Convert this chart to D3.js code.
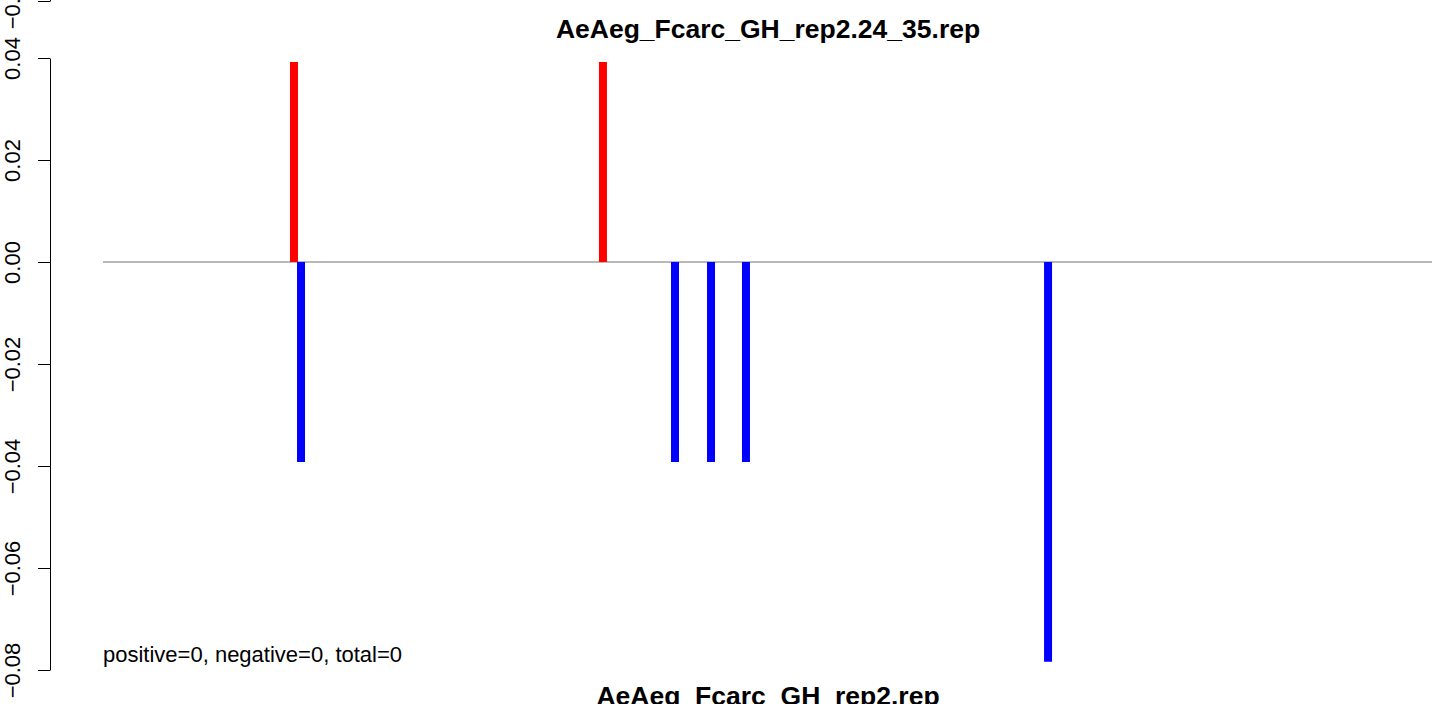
<!DOCTYPE html>
<html>
<head>
<meta charset="utf-8">
<script src="https://cdn.jsdelivr.net/npm/d3@7"></script>
<style>
  html, body { margin: 0; padding: 0; background: #fff; }
  svg { display: block; }
  text { font-family: "Liberation Sans", Arial, Helvetica, sans-serif; }
</style>
</head>
<body>
<div id="chart"></div>
<script>
// ---- data ----
const titleText = "AeAeg_Fcarc_GH_rep2.24_35.rep";
const nextTitleText = "AeAeg_Fcarc_GH_rep2.rep";
const summaryText = "positive=0, negative=0, total=0";
const positivePositions = [14.37, 37.62];
const positiveValues = [0.0392, 0.0392];
const negativePositions = [14.90, 43.04, 45.75, 48.38, 71.11];
const negativeValues = [-0.0392, -0.0392, -0.0392, -0.0392, -0.0784];
const yTicks = [0.04, 0.02, 0.00, -0.02, -0.04, -0.06, -0.08];
const xDomain = [0, 100];
const yDomain = [-0.08, 0.04];
const prevPanelTicks = [-0.08];

// ---- layout ----
const W = 1439, H = 704;
const svg = d3.select("#chart").append("svg").attr("width", W).attr("height", H);

const x = d3.scaleLinear().domain(xDomain).range([103, 1432]);
const y = d3.scaleLinear().domain(yDomain).range([670, 58]);
const axisX = 50;
const fmt = d3.format(".2f");

// baseline
svg.append("line")
  .attr("x1", x(xDomain[0])).attr("x2", x(xDomain[1]))
  .attr("y1", y(0)).attr("y2", y(0))
  .attr("stroke", "#a0a0a0").attr("stroke-width", 1.5);

// bars
svg.append("g").selectAll("line")
  .data(positivePositions.map((p, i) => ({p, v: positiveValues[i]})))
  .join("line")
  .attr("x1", d => x(d.p)).attr("x2", d => x(d.p))
  .attr("y1", y(0)).attr("y2", d => y(d.v))
  .attr("stroke", "#ff0000").attr("stroke-width", 8);

svg.append("g").selectAll("line")
  .data(negativePositions.map((p, i) => ({p, v: negativeValues[i]})))
  .join("line")
  .attr("x1", d => x(d.p)).attr("x2", d => x(d.p))
  .attr("y1", y(0)).attr("y2", d => y(d.v))
  .attr("stroke", "#0000ff").attr("stroke-width", 8);

// y axis
function styleAxis(g) {
  g.select(".domain").attr("stroke", "#000").attr("stroke-width", 1);
  g.selectAll(".tick line").attr("stroke", "#000").attr("stroke-width", 1);
  g.selectAll(".tick text")
    .attr("x", null).attr("y", null).attr("dy", null)
    .attr("transform", "translate(-30,0) rotate(-90)")
    .attr("text-anchor", "middle")
    .attr("fill", "#000")
    .style("font-size", "22px")
    .style("font-family", '"Liberation Sans", Arial, sans-serif');
}

const gAxis = svg.append("g").attr("transform", `translate(${axisX},0)`)
  .call(d3.axisLeft(y).tickValues(yTicks).tickFormat(fmt).tickSize(12).tickSizeOuter(0));
styleAxis(gAxis);

// partial axis of the panel above
const yPrev = d3.scaleLinear().domain(yDomain).range([1, 1 - 612]);
const gPrev = svg.append("g").attr("transform", `translate(${axisX},0)`)
  .call(d3.axisLeft(yPrev).tickValues(prevPanelTicks).tickFormat(fmt).tickSize(12).tickSizeOuter(0));
styleAxis(gPrev);

// titles and text
svg.append("text")
  .attr("x", 768).attr("y", 38)
  .attr("text-anchor", "middle")
  .style("font-weight", "bold").style("font-size", "26.5px")
  .text(titleText);

svg.append("text")
  .attr("x", 103).attr("y", 662)
  .style("font-size", "22px")
  .text(summaryText);

svg.append("text")
  .attr("x", 768).attr("y", 705)
  .attr("text-anchor", "middle")
  .style("font-weight", "bold").style("font-size", "26.5px")
  .text(nextTitleText);
</script>
</body>
</html>
